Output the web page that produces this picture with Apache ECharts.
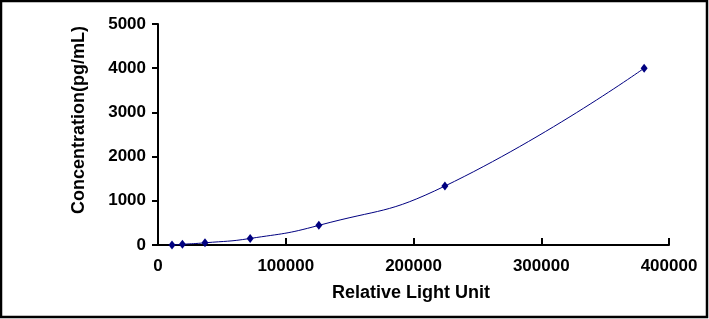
<!DOCTYPE html>
<html>
<head>
<meta charset="utf-8">
<script src="https://cdn.jsdelivr.net/npm/echarts@6/dist/echarts.min.js"></script>
<style>
html,body{margin:0;padding:0;background:#fff;}
#c{width:709px;height:319px;}
</style>
</head>
<body>
<div id="c"></div>
<script>
var rlu = [10964, 19098, 36781, 72149, 125906, 224580, 380548];
var conc = [0, 16.5, 49.4, 148.1, 444.4, 1333.3, 4000];
var xTitle = 'Relative Light Unit';
var yTitle = 'Concentration(pg/mL)';

var pts = rlu.map(function (v, i) { return [v, conc[i]]; });
var font = '"Liberation Sans", Arial, sans-serif';
var plain = function (v) { return String(v); };
var chart = echarts.init(document.getElementById('c'), null, {renderer: 'canvas'});
chart.setOption({
  backgroundColor: '#fff',
  animation: false,
  grid: {left: 158, right: 40, top: 24, bottom: 74, containLabel: false},
  xAxis: {
    type: 'value', min: 0, max: 400000, interval: 100000,
    splitLine: {show: false},
    axisLine: {lineStyle: {color: '#000', width: 2}},
    axisTick: {inside: true, length: 7, lineStyle: {color: '#000', width: 2}},
    axisLabel: {color: '#000', fontWeight: 'bold', fontSize: 17, fontFamily: font, margin: 13, formatter: plain}
  },
  yAxis: {
    type: 'value', min: 0, max: 5000, interval: 1000,
    splitLine: {show: false},
    axisLine: {show: true, lineStyle: {color: '#000', width: 2}},
    axisTick: {show: true, inside: false, length: 6, lineStyle: {color: '#000', width: 2}},
    axisLabel: {color: '#000', fontWeight: 'bold', fontSize: 17, fontFamily: font, margin: 12, formatter: plain}
  },
  graphic: [
    {type: 'rect', shape: {x: 1, y: 1, width: 706, height: 316}, style: {fill: 'none', stroke: '#000', lineWidth: 2.5}, z: 100},
    {type: 'text', style: {text: xTitle, fill: '#000', font: 'bold 18px ' + font, textAlign: 'center', textVerticalAlign: 'middle'}, x: 411, y: 293},
    {type: 'text', style: {text: yTitle, fill: '#000', font: 'bold 18px ' + font, textAlign: 'center', textVerticalAlign: 'middle'}, x: 79, y: 120, rotation: Math.PI / 2}
  ],
  series: [{
    type: 'line',
    data: pts,
    smooth: 0.5,
    symbol: 'diamond',
    symbolSize: [7, 9],
    showSymbol: true,
    lineStyle: {color: '#000080', width: 1},
    itemStyle: {color: '#000080'}
  }]
});
</script>
</body>
</html>
